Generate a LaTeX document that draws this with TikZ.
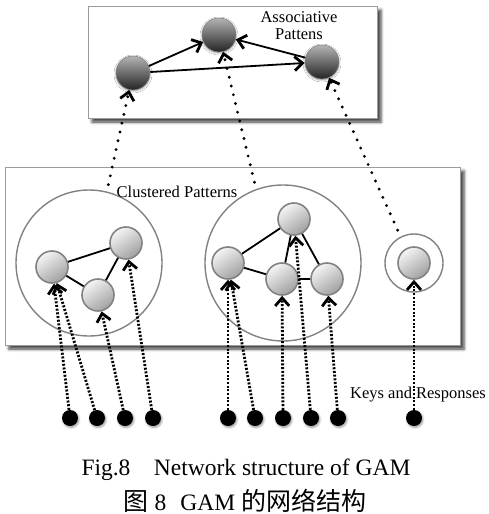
\documentclass[tikz,border=0pt]{standalone}
\usepackage{fontspec}
\setmainfont{Liberation Serif}
\newfontfamily\zhfont{Noto Sans CJK SC}
\usetikzlibrary{arrows.meta,shadows.blur}
\definecolor{gam_dark}{RGB}{35, 35, 35}
\definecolor{gam_mid}{RGB}{180, 180, 180}
\definecolor{gam_light}{RGB}{245, 245, 245}
\definecolor{gam_pale}{RGB}{160, 160, 160}
\definecolor{gam_rim}{RGB}{130, 130, 130}
\tikzstyle{an}=[circle,top color=gam_mid,bottom color=gam_dark,draw=gam_rim,
  line width=0.6pt,inner sep=0pt,minimum size=34pt,
  blur shadow={shadow xshift=0pt,shadow yshift=-1pt,shadow blur radius=2pt}]
\tikzstyle{pn}=[circle,top color=gam_light,bottom color=gam_pale,shading angle=35,
  draw=gam_rim,line width=1.6pt,inner sep=0pt,minimum size=32pt]
\tikzstyle{kn}=[circle,fill=black,inner sep=0pt,minimum size=16pt,
  blur shadow={shadow xshift=1pt,shadow yshift=-1.5pt,shadow blur radius=2pt}]
\tikzstyle{grp}=[circle,draw=gam_rim,line width=1.4pt,inner sep=0pt]
\tikzstyle{panel}=[draw=gam_rim!80,line width=1pt,fill=white,
  blur shadow={shadow xshift=4pt,shadow yshift=-4pt,shadow blur radius=3pt,
  shadow opacity=75}]
\tikzstyle{barb}=[-{Straight Barb[length=8pt,width=14pt,line width=2.8pt]}]
\tikzstyle{link}=[line width=1.8pt]
\tikzstyle{cue}=[barb,line width=2.8pt,dash pattern=on 2pt off 1.7pt]
\tikzstyle{recall}=[barb,line width=3.2pt,line cap=round,dash pattern=on 0pt off 9pt,
  shorten <=7pt]
\tikzstyle{lbl}=[inner sep=0pt,font=\fontsize{16.5}{17}\selectfont]
\tikzstyle{figtxt}=[inner sep=0pt,anchor=base,font=\fontsize{23.5}{26}\selectfont]
\tikzstyle{none}=[]
\newcommand{\zhtext}[1]{{\zhfont\fontsize{25}{28}\selectfont #1}}

\begin{document}
\begin{tikzpicture}[x=1pt,y=-1pt]
            \useasboundingbox (0,0) rectangle (489,514);
            \draw [style=panel] (88,6) rectangle (377,118);
            \draw [style=panel] (5,167) rectangle (460,345);
            \node [style=an] (0) at (133,73) {};
            \node [style=an] (1) at (219,35) {};
            \node [style=an] (2) at (322,62) {};
            \node [style=grp,minimum size=146pt] (3) at (89,263) {};
            \node [style=grp,minimum size=156pt] (4) at (283,263) {};
            \node [style=grp,minimum size=58pt] (5) at (414,263) {};
            \node [style=pn] (6) at (52,267) {};
            \node [style=pn] (7) at (126,243) {};
            \node [style=pn] (8) at (98,295) {};
            \node [style=pn] (9) at (228,263) {};
            \node [style=pn] (10) at (294,219) {};
            \node [style=pn] (11) at (282,279) {};
            \node [style=pn] (12) at (327,279) {};
            \node [style=pn] (13) at (414,263) {};
            \node [style=kn] (14) at (70,418) {};
            \node [style=kn] (15) at (97,418) {};
            \node [style=kn] (16) at (125,418) {};
            \node [style=kn] (17) at (153,418) {};
            \node [style=kn] (18) at (228,418) {};
            \node [style=kn] (19) at (255,418) {};
            \node [style=kn] (20) at (283,418) {};
            \node [style=kn] (21) at (311,418) {};
            \node [style=kn] (22) at (338,418) {};
            \node [style=kn] (23) at (414,418) {};
            \node [style=lbl,align=center] (24) at (299,26) {Associative\\Pattens};
            \node [style=lbl,anchor=base] (25) at (177,197) {Clustered Patterns};
            \node [style=lbl,anchor=base] (26) at (418,398) {Keys and Responses};
            \node [style=figtxt] (27) at (246,475) {Fig.8\hspace{1em}Network structure of GAM};
            \node [style=figtxt] (28) at (245,510) {\zhtext{图} 8\hspace{0.6em}GAM \zhtext{的网络结构}};
            \draw [style=link,style=barb] (0) to (1);
            \draw [style=link,style=barb] (2) to (1);
            \draw [style=link,style=barb] (0) to (2);
            \draw [style=link] (6) to (7);
            \draw [style=link] (6) to (8);
            \draw [style=link] (7) to (8);
            \draw [style=link] (9) to (10);
            \draw [style=link] (9) to (11);
            \draw [style=link] (10) to (11);
            \draw [style=link] (10) to (12);
            \draw [style=link] (11) to (12);
            \draw [style=cue] (14) to (6);
            \draw [style=cue] (15) to (6);
            \draw [style=cue] (16) to (8);
            \draw [style=cue] (17) to (7);
            \draw [style=cue] (18) to (9);
            \draw [style=cue] (19) to (9);
            \draw [style=cue] (20) to (11);
            \draw [style=cue] (21) to (10);
            \draw [style=cue] (22) to (12);
            \draw [style=cue] (23) to (13);
            \draw [style=recall] (3.76) to (0);
            \draw [style=recall] (4.110) to (1);
            \draw [style=recall] (5.117) to (2);
    \end{tikzpicture}
\end{document}
